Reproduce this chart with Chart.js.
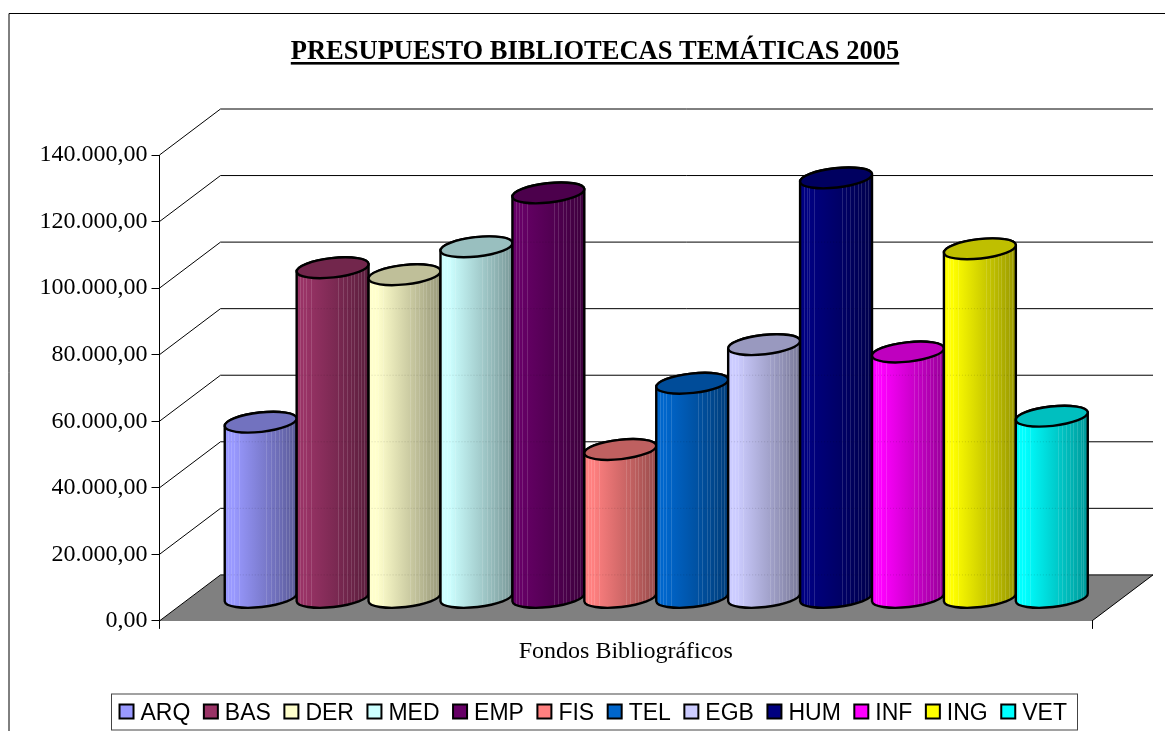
<!DOCTYPE html>
<html><head><meta charset="utf-8">
<style>html,body{margin:0;padding:0;background:#fff;overflow:hidden}canvas{display:block}</style>
<script src="https://cdn.jsdelivr.net/npm/chart.js@4/dist/chart.umd.min.js"></script>
</head><body>
<canvas id="c" width="1165" height="731"></canvas>
<script>
const chartTitle = 'PRESUPUESTO BIBLIOTECAS TEMÁTICAS 2005';
const categories = ['Fondos Bibliográficos'];
const seriesNames = ['ARQ','BAS','DER','MED','EMP','FIS','TEL','EGB','HUM','INF','ING','VET'];
const seriesValues = [52800,99200,97100,105500,121700,44600,64500,76100,126200,73900,104900,54600];
const seriesColors = ['#9999FF','#993366','#FFFFCC','#CCFFFF','#660066','#FF8080','#0066CC','#CCCCFF','#000080','#FF00FF','#FFFF00','#00FFFF'];

const DX = 61, DY = 46;              // depth of the 3D box
const STREAKS = [.05,.09,.13,.2,.58,.64,.7,.75,.8,.85,.9,.94];
const TILT = -6.3 * Math.PI / 180, RY = 9.7;

function shade(hex, f) {
  const n = parseInt(hex.slice(1), 16);
  return `rgb(${(n>>16&255)*f|0},${(n>>8&255)*f|0},${(n&255)*f|0})`;
}
function fmt(v) {
  const s = Math.round(v).toString().replace(/\B(?=(\d{3})+$)/g, '.');
  return s + ',00';
}
function cylinder(ctx, el, color, backYs) {
  const rx = el.width / 2, cx = el.x + DX / 2, yt = el.y - DY / 2, yb = el.base - DY / 2;
  const rr = rx / Math.cos(TILT), sl = rx * Math.tan(TILT);
  const path = () => {
    ctx.beginPath();
    ctx.ellipse(cx, yb, rr, RY, TILT, Math.PI, 0, true);
    ctx.lineTo(cx + rx, yt + sl);
    ctx.ellipse(cx, yt, rr, RY, TILT, 0, Math.PI, true);
    ctx.closePath();
  };
  const g = ctx.createLinearGradient(cx - rx, 0, cx + rx, 0);
  g.addColorStop(0, color); g.addColorStop(.12, color); g.addColorStop(1, shade(color, .6));
  ctx.save();
  path(); ctx.fillStyle = g; ctx.fill();
  ctx.save(); path(); ctx.clip();
  ctx.lineWidth = 1;
  ctx.strokeStyle = 'rgba(255,255,255,.14)';
  STREAKS.forEach(f => {
    const x = Math.round(cx - rx + f * 2 * rx) + .5;
    ctx.beginPath(); ctx.moveTo(x, yt - 20); ctx.lineTo(x, yb + 20); ctx.stroke();
  });
  ctx.strokeStyle = 'rgba(0,0,0,.14)'; ctx.setLineDash([1, 2]);
  backYs.forEach(y => { ctx.beginPath(); ctx.moveTo(cx - rx, y); ctx.lineTo(cx + rx, y); ctx.stroke(); });
  ctx.restore();
  ctx.strokeStyle = '#000'; ctx.lineWidth = 2.4; ctx.lineJoin = 'round';
  path(); ctx.stroke();
  ctx.beginPath(); ctx.ellipse(cx, yt, rr, RY, TILT, 0, 2 * Math.PI);
  ctx.fillStyle = shade(color, .75); ctx.fill(); ctx.stroke();
  ctx.restore();
}

const box3d = {
  id: 'box3d',
  beforeDraw(chart) {
    const c = chart.ctx;
    c.save(); c.strokeStyle = '#000'; c.lineWidth = 1;
    c.beginPath(); c.moveTo(9, 731); c.lineTo(9, 13.5); c.lineTo(1165, 13.5); c.stroke();
    c.restore();
  },
  beforeDatasetsDraw(chart) {
    const c = chart.ctx, y = chart.scales.y, a = chart.chartArea;
    const ticks = y.ticks.map(t => y.getPixelForValue(t.value));
    c.save();
    c.beginPath();
    c.moveTo(a.left, a.bottom); c.lineTo(a.right, a.bottom);
    c.lineTo(a.right + DX, a.bottom - DY); c.lineTo(a.left + DX, a.bottom - DY); c.closePath();
    c.fillStyle = '#808080'; c.fill();
    c.strokeStyle = '#000'; c.lineWidth = 1;
    ticks.forEach(p => {
      c.beginPath(); c.moveTo(a.left, p); c.lineTo(a.left + DX, p - DY); c.lineTo(a.right + DX, p - DY); c.stroke();
    });
    c.beginPath(); c.moveTo(a.right, a.bottom); c.lineTo(a.right + DX, a.bottom - DY); c.stroke();
    c.restore();
    const backYs = ticks.map(p => p - DY);
    chart.data.datasets.forEach((ds, i) => {
      cylinder(c, chart.getDatasetMeta(i).data[0], ds.backgroundColor, backYs);
    });
  },
  beforeDatasetDraw() { return false; },
  afterDraw(chart) {
    const c = chart.ctx, t = chart.titleBlock, lg = chart.legend;
    c.save();
    // title underline
    c.font = t.options.font.weight + ' ' + t.options.font.size + 'px ' + t.options.font.family;
    const w = c.measureText(chartTitle).width, mid = (t.left + t.right) / 2;
    c.fillStyle = '#000';
    c.fillRect(mid - w / 2, 62, w, 2.6);
    // legend frame and swatches
    c.strokeStyle = '#444'; c.lineWidth = 1;
    c.strokeRect(111.5, 694, 966, 36);
    lg.legendHitBoxes.forEach((h, i) => {
      c.fillStyle = seriesColors[i]; c.strokeStyle = '#000'; c.lineWidth = 2;
      c.fillRect(h.left - 3.5, 704.5, 14, 14); c.strokeRect(h.left - 3.5, 704.5, 14, 14);
    });
    c.restore();
  }
};

new Chart(document.getElementById('c'), {
  type: 'bar',
  data: {
    labels: categories,
    datasets: seriesNames.map((n, i) => ({ label: n, data: [seriesValues[i]], backgroundColor: seriesColors[i] }))
  },
  plugins: [box3d],
  options: {
    responsive: false, animation: false,
    layout: { padding: { left: 25, right: 0, top: 0, bottom: -4.5 } },
    categoryPercentage: 0.9255, barPercentage: 1,
    plugins: {
      tooltip: { enabled: false },
      title: { display: true, text: chartTitle, color: '#000',
        font: { family: '"Liberation Serif"', size: 26.5, weight: 'bold' },
        padding: { top: 36, bottom: 87.2 } },
      legend: { position: 'bottom',
        labels: { boxWidth: 6, boxHeight: 10, padding: 17, color: '#000',
          font: { family: '"Liberation Sans"', size: 23 } } }
    },
    scales: {
      x: { grid: { drawOnChartArea: false, drawTicks: true, tickLength: 8, color: '#000' },
        border: { color: '#000', width: 1 },
        ticks: { color: '#000', padding: 8, font: { family: '"Liberation Serif"', size: 24 } },
        afterFit(s) { s.height = 64.6; } },
      y: { min: 0, max: 140000,
        grid: { drawOnChartArea: false, drawTicks: true, tickLength: 8, color: '#000' },
        border: { color: '#000', width: 1 },
        ticks: { stepSize: 20000, color: '#000', padding: 4, callback: fmt,
          font: { family: '"Liberation Serif"', size: 24 } },
        afterFit(s) { s.width = 134.5; } },
      yr: { position: 'right', display: true, min: 0, max: 140000,
        grid: { display: false }, border: { display: false }, ticks: { display: false },
        afterFit(s) { s.width = 73; } }
    }
  }
});
</script>
</body></html>
